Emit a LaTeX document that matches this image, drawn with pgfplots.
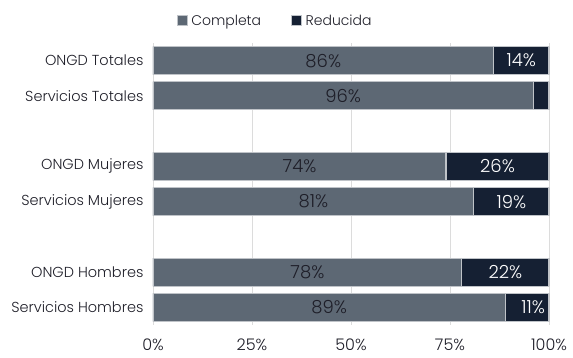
\documentclass[border=0pt]{standalone}
\usepackage{pgfplots}
\pgfplotsset{compat=1.18}
\usepackage{fontspec}
\setmainfont{Poppins}[UprightFont={* Light}]
\definecolor{compl}{HTML}{5D6874}
\definecolor{reduc}{HTML}{152033}
\definecolor{edge}{HTML}{BFC3C8}
\definecolor{gridc}{HTML}{DCDCDC}
\definecolor{txt}{HTML}{1E1E28}
\begin{document}
\begin{tikzpicture}
\path[use as bounding box] (-153pt,-33pt) rectangle (420pt,325pt);
\begin{axis}[
  scale only axis, width=396pt, height=282pt,
  xmin=0, xmax=100, ymin=-0.5, ymax=7.5, y dir=reverse,
  xbar stacked, bar width=28pt,
  axis line style={draw=none}, major tick length=0pt,
  xtick={0,25,50,75,100},
  xticklabel={\pgfmathprintnumber[assume math mode=true]{\tick}\%},
  xmajorgrids, grid style={gridc, line width=0.9pt},
  ytick={0,1,3,4,6,7},
  yticklabels={ONGD Totales, Servicios Totales, ONGD Mujeres, Servicios Mujeres, ONGD Hombres, Servicios Hombres},
  x tick label style={font=\fontsize{16}{18}\selectfont, text=txt, yshift=-10pt},
  y tick label style={font=\fontsize{14.5}{17}\selectfont, text=txt, xshift=-6pt},
  legend style={at={(0.052,1)}, anchor=south west, yshift=12pt, draw=none, fill=none,
    legend columns=2, font=\fontsize{14}{16}\selectfont, text=txt,
    /tikz/every odd column/.append style={column sep=1.5pt},
    /tikz/every even column/.append style={column sep=28pt}},
  legend image code/.code={\draw[#1, line width=1pt] (0pt,-5pt) rectangle (10pt,5pt);},
]
\addplot[fill=compl, draw=edge, line width=1.2pt] coordinates {(86,0) (96,1) (74,3) (81,4) (78,6) (89,7)};
\addlegendentry{Completa}
\addplot[fill=reduc, draw=edge, line width=1.2pt] coordinates {(14,0) (4,1) (26,3) (19,4) (22,6) (11,7)};
\addlegendentry{Reducida}
\end{axis}
\begin{axis}[
  scale only axis, width=396pt, height=282pt,
  xmin=0, xmax=100, ymin=-0.5, ymax=7.5, y dir=reverse,
  hide axis,
  point meta=explicit symbolic,
  nodes near coords={\pgfplotspointmeta},
  nodes near coords align={center},
  every node near coord/.append style={anchor=center, font=\fontsize{18}{20}\selectfont},
]
\addplot[draw=none, mark=none, every node near coord/.append style={text=txt}] coordinates {(43,0)[86\%] (48,1)[96\%] (37,3)[74\%] (40.5,4)[81\%] (39,6)[78\%] (44.5,7)[89\%]};
\addplot[draw=none, mark=none, every node near coord/.append style={text=white}] coordinates {(93,0)[14\%] (87,3)[26\%] (90.5,4)[19\%] (89,6)[22\%] (96,7)[11\%]};
\end{axis}
\end{tikzpicture}
\end{document}
